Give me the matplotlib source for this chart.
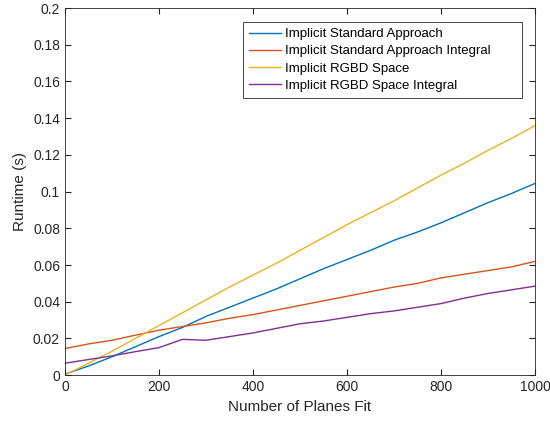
import numpy as np
import matplotlib
matplotlib.use("Agg")
import matplotlib.pyplot as plt

plt.rcParams['font.family'] = ['Liberation Sans', 'DejaVu Sans']

planes = [0, 50, 100, 150, 200, 250, 300, 350, 400, 450, 500,
          550, 600, 650, 700, 750, 800, 850, 900, 950, 1000]

standard = [0.0005, 0.005, 0.010, 0.0155, 0.021, 0.026, 0.032, 0.037, 0.042, 0.047, 0.0525,
            0.058, 0.063, 0.068, 0.0735, 0.078, 0.083, 0.0885, 0.094, 0.099, 0.1045]
standard_int = [0.0145, 0.017, 0.019, 0.0218, 0.0245, 0.0265, 0.0285, 0.031, 0.033, 0.0355, 0.038,
                0.0405, 0.043, 0.0455, 0.048, 0.050, 0.053, 0.055, 0.057, 0.059, 0.062]
rgbd = [0.0, 0.0065, 0.013, 0.020, 0.027, 0.034, 0.041, 0.048, 0.0545, 0.061, 0.068,
        0.075, 0.082, 0.0885, 0.095, 0.102, 0.109, 0.1155, 0.1225, 0.129, 0.136]
rgbd_int = [0.0065, 0.0085, 0.0105, 0.0128, 0.015, 0.0195, 0.019, 0.021, 0.023, 0.0255, 0.028,
            0.0295, 0.0315, 0.0335, 0.035, 0.037, 0.039, 0.042, 0.0445, 0.0465, 0.0485]

labels = ["Implicit Standard Approach", "Implicit Standard Approach Integral",
          "Implicit RGBD Space", "Implicit RGBD Space Integral"]
colors = ["#0072BD", "#D95319", "#EDB120", "#7E2F8E"]

fig = plt.figure(figsize=(5.5, 4.22), dpi=100)
ax = fig.add_axes([0.118, 0.111, 0.855, 0.870])

for ys, lab, c in zip([standard, standard_int, rgbd, rgbd_int], labels, colors):
    ax.plot(planes, ys, color=c, lw=1.0, label=lab)

ax.set_xlim(0, 1000)
ax.set_ylim(0, 0.2)
ax.set_xticks(np.arange(0, 1001, 200))
ax.set_yticks(np.arange(0, 0.201, 0.02))
ax.set_yticklabels(["0", "0.02", "0.04", "0.06", "0.08", "0.1", "0.12",
                    "0.14", "0.16", "0.18", "0.2"])
ax.tick_params(direction='in', top=True, right=True, labelsize=10, colors='#262626', length=4)
for s in ax.spines.values():
    s.set_color('#262626')
    s.set_linewidth(0.6)
ax.set_xlabel("Number of Planes Fit", fontsize=11, color='#262626')
ax.set_ylabel("Runtime (s)", fontsize=11, color='#262626')

# legend box stretched to the MATLAB-like width
leg = ax.legend(loc='upper left', bbox_to_anchor=(0.379, 0.758, 0.594, 0.204), mode='expand',
                fontsize=9.5, fancybox=False, framealpha=1, edgecolor='#262626',
                handlelength=2.4, handletextpad=0.3, labelspacing=0.38,
                borderpad=0.45, borderaxespad=0)
leg.get_frame().set_linewidth(0.6)

fig.savefig("out.png", dpi=100)
